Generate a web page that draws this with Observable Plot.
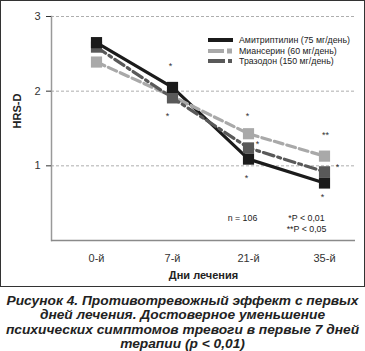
<!DOCTYPE html>
<html><head><meta charset="utf-8">
<script src="https://cdn.jsdelivr.net/npm/d3@7"></script>
<script src="https://cdn.jsdelivr.net/npm/@observablehq/plot@0.6"></script>
<style>
body{margin:0;background:#fff;font-family:"Liberation Sans",Arial,sans-serif;}
#box{position:relative;width:365px;height:287px;box-sizing:border-box;border:1px solid #333;}
#legend{position:absolute;left:205px;top:34px;font-size:8.8px;color:#222;line-height:10.5px;}
#legend div{display:flex;align-items:center;white-space:nowrap;}
#legend svg{margin-right:5px;}
#cap{width:365px;text-align:center;font-weight:bold;font-style:italic;font-size:12.5px;line-height:14.4px;color:#222;margin-top:7px;transform:scaleX(1.1);transform-origin:center top;}
</style></head><body>
<div id="box"><div id="legend"></div></div>
<div id="cap">Рисунок 4. Противотревожный эффект с первых<br>дней лечения. Достоверное уменьшение<br>психических симптомов тревоги в первые 7 дней<br>терапии (p &lt; 0,01)</div>
<script>
const days = ["0-й", "7-й", "21-й", "35-й"];
const seriesNames = ["Амитриптилин (75 мг/день)", "Миансерин (60 мг/день)", "Тразодон (150 мг/день)"];
const amitriptyline = [2.65, 2.05, 1.09, 0.77];
const mianserin = [2.39, 1.93, 1.43, 1.13];
const trazodone = [2.59, 1.91, 1.24, 0.92];
const yTicks = [1, 2, 3];
// significance marks: day, level, label
const starDays = ["7-й", "7-й", "21-й", "21-й", "21-й", "35-й", "35-й", "35-й"];
const starLevels = [2.33, 1.67, 1.67, 1.29, 0.83, 1.41, 0.98, 0.58];
const starLabels = ["*", "*", "*", "*", "*", "**", "*", "*"];
const starShift = [-2, -5, -1, 9, -2, 1, 13, -2];

const colors = ["#1b1b1b", "#a9a9a9", "#595959"];
const dashes = [null, "9,4", "11,4,3,4"];
const values = [amitriptyline, mianserin, trazodone];
const rows = [];
seriesNames.forEach((s, i) => days.forEach((d, j) => rows.push({series: s, day: d, v: values[i][j], i})));
const stars = starDays.map((d, k) => ({day: d, v: starLevels[k], t: starLabels[k], dx: starShift[k]}));

const marks = [
  Plot.ruleY(yTicks, {stroke: "#999", strokeWidth: 0.8, strokeDasharray: "3,2"}),
  Plot.ruleY([0], {stroke: "#8a8a8a", strokeWidth: 1.5}),
  Plot.axisY({ticks: yTicks, tickFormat: d3.format("d"), tickSize: 5, tickPadding: 6, fontSize: 11, color: "#333", label: null}),
  Plot.axisX({tickSize: 0, tickPadding: 14, fontSize: 11, color: "#333", label: null}),
  Plot.text(["HRS-D"], {frameAnchor: "left", dx: -34, rotate: -90, fontSize: 11, fontWeight: "bold", fill: "#222"}),
  Plot.text(["Дни лечения"], {frameAnchor: "bottom", dy: 38, fontSize: 11, fontWeight: "bold", fill: "#222"})
];
seriesNames.forEach((s, i) => {
  const data = rows.filter(r => r.i === i);
  marks.push(Plot.line(data, {x: "day", y: "v", stroke: colors[i], strokeWidth: 3.2, strokeDasharray: dashes[i]}));
});
[1, 2, 0].forEach(i => {
  marks.push(Plot.dot(rows.filter(r => r.i === i), {x: "day", y: "v", symbol: "square", r: 6.3, fill: colors[i], stroke: "none"}));
});
stars.forEach(st => marks.push(Plot.text([st], {x: "day", y: "v", text: "t", dx: st.dx, fontSize: 9, fill: "#333"})));
marks.push(Plot.text(["n = 106"], {x: () => "21-й", y: () => 0.30, dx: -6, fontSize: 8.8, fill: "#222"}));
marks.push(Plot.text(["*P < 0,01"], {x: () => "35-й", y: () => 0.30, dx: -18, fontSize: 8.8, fill: "#222"}));
marks.push(Plot.text(["**P < 0,05"], {x: () => "35-й", y: () => 0.15, dx: -18, fontSize: 8.8, fill: "#222"}));

const chart = Plot.plot({
  width: 363, height: 285,
  marginLeft: 50, marginRight: 9, marginTop: 15, marginBottom: 46,
  style: {fontFamily: "Liberation Sans, Arial, sans-serif", background: "transparent"},
  x: {type: "point", domain: days, range: [94, 324], padding: 0},
  y: {domain: [0, 3]},
  marks: [
    Plot.frame({anchor: "left", stroke: "#999", strokeWidth: 1.5}),
    ...marks
  ]
});
document.getElementById("box").prepend(chart);

const leg = document.getElementById("legend");
seriesNames.forEach((s, i) => {
  const row = document.createElement("div");
  let sw;
  if (i === 0) sw = `<rect x="2" y="3" width="25" height="4" fill="${colors[0]}"/>`;
  else if (i === 1) sw = `<rect x="2" y="3" width="16" height="4" fill="${colors[1]}"/><rect x="21" y="2.5" width="5" height="5" fill="${colors[1]}"/>`;
  else sw = `<rect x="2" y="3" width="17" height="4" fill="${colors[2]}"/><rect x="22" y="3" width="4" height="4" fill="${colors[2]}"/>`;
  row.innerHTML = `<svg width="28" height="10">${sw}</svg><span>${s}</span>`;
  leg.appendChild(row);
});
</script>
</body></html>
